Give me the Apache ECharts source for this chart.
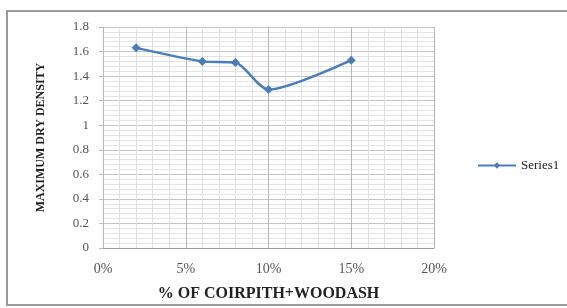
<!DOCTYPE html>
<html>
<head>
<meta charset="utf-8">
<script src="https://cdn.jsdelivr.net/npm/echarts@6/dist/echarts.min.js"></script>
<style>
  html, body { margin: 0; padding: 0; background: #fff; }
  #chart { width: 567px; height: 308px; }
</style>
</head>
<body>
<div id="chart"></div>
<script>
// percent of coirpith + woodash, and the measured max dry density
const percents = [2, 6, 8, 10, 15];
const densities = [1.63, 1.52, 1.51, 1.29, 1.53];
const seriesName = 'Series1';

const FONT = '"Liberation Serif", "DejaVu Serif", serif';
const LINE = '#4a7ebb';

const chart = echarts.init(document.getElementById('chart'));

chart.setOption({
    backgroundColor: '#fff',
    animation: false,
    graphic: [{
        type: 'rect',
        shape: { x: 7, y: 11, width: 580, height: 294 },
        style: { fill: 'none', stroke: '#9a9a9a', lineWidth: 2 },
        silent: true,
    }],
    legend: {
        left: 472,
        top: 154,
        itemWidth: 38,
        itemHeight: 8,
        itemGap: 4,
        data: [seriesName],
        textStyle: { fontFamily: FONT, fontSize: 13, color: '#222' },
    },
    grid: { left: 103, right: 133, top: 27, bottom: 60 },
    xAxis: {
        type: 'value',
        min: 0,
        max: 20,
        interval: 5,
        name: '% OF COIRPITH+WOODASH',
        nameLocation: 'middle',
        nameGap: 38,
        nameTextStyle: { fontFamily: FONT, fontWeight: 'bold', fontSize: 16, color: '#222' },
        axisLabel: { formatter: '{value}%', fontFamily: FONT, fontSize: 14, color: '#555', margin: 14 },
        axisLine: { show: true, onZero: false, lineStyle: { color: '#9a9a9a' } },
        axisTick: { show: false },
        splitLine: { show: true, lineStyle: { color: '#b8b8b8', width: 1 } },
        minorTick: { show: false, splitNumber: 5 },
        minorSplitLine: { show: true, lineStyle: { color: '#e0e0e0', width: 1 } },
    },
    yAxis: {
        type: 'value',
        min: 0,
        max: 1.8,
        interval: 0.2,
        name: 'MAXIMUM DRY DENSITY',
        nameLocation: 'middle',
        nameGap: 56,
        nameTextStyle: { fontFamily: FONT, fontWeight: 'bold', fontSize: 12, color: '#222' },
        axisLabel: {
            formatter: (v) => String(Math.round(v * 10) / 10),
            fontFamily: FONT, fontSize: 13, color: '#555', margin: 14,
        },
        axisLine: { show: false },
        axisTick: { show: true, length: 4, lineStyle: { color: '#bbb' } },
        splitLine: { show: true, lineStyle: { color: '#c4c4c4', width: 1 } },
        minorTick: { show: false, splitNumber: 5 },
        minorSplitLine: { show: true, lineStyle: { color: '#e3e3e3', width: 1 } },
    },
    series: [{
        name: seriesName,
        type: 'line',
        smooth: 0.25,
        data: percents.map((p, i) => [p, densities[i]]),
        symbol: 'diamond',
        symbolSize: 9,
        itemStyle: { color: LINE },
        lineStyle: { color: LINE, width: 2.5 },
    }],
});
</script>
</body>
</html>
